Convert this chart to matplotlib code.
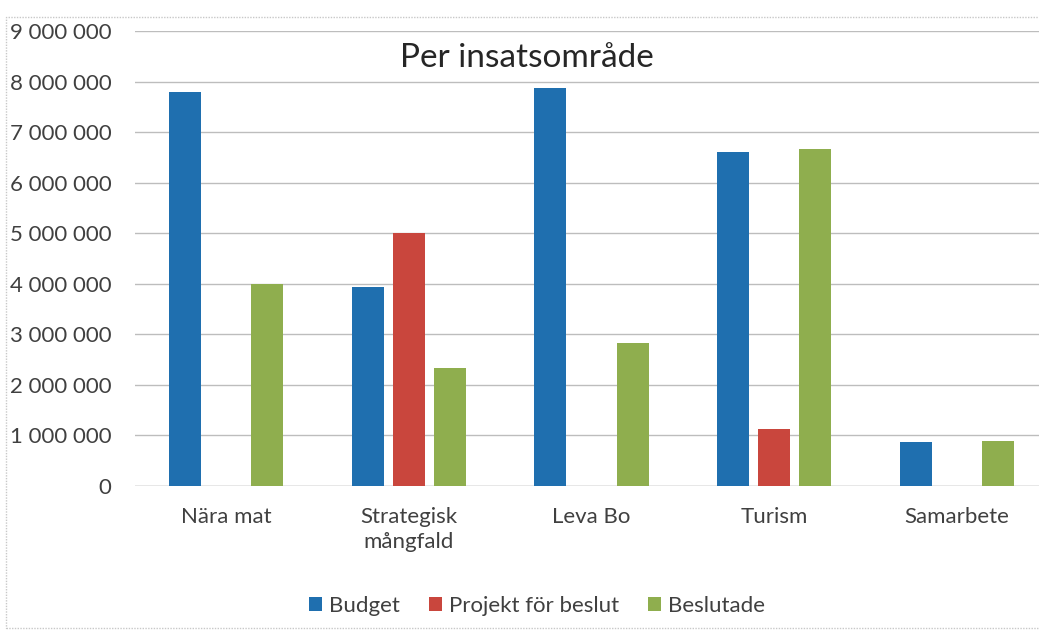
import matplotlib
matplotlib.use("Agg")
import matplotlib.pyplot as plt
import numpy as np
from matplotlib.patches import Rectangle

categories = ["Nära mat", "Strategisk\nmångfald", "Leva Bo", "Turism", "Samarbete"]
budget = [7800000, 3930000, 7870000, 6600000, 870000]
projekt = [0, 5000000, 0, 1120000, 0]
beslutade = [4000000, 2330000, 2830000, 6660000, 890000]
series_names = ["Budget", "Projekt för beslut", "Beslutade"]
colors = ["#1f6faf", "#c9463d", "#8fae4e"]
yticks = [0, 1000000, 2000000, 3000000, 4000000, 5000000, 6000000, 7000000, 8000000, 9000000]

plt.rcParams['font.family'] = ['Lato', 'DejaVu Sans']

W, H = 1039, 641
fig = plt.figure(figsize=(W/100, H/100), dpi=100)
fig.patch.set_facecolor("white")
ax = fig.add_axes([135/W, (H-486)/H, (1048-135)/W, (486-31)/H])

x = np.arange(len(categories))
bw = 0.176
step = 0.225
for i, (vals, name, c) in enumerate(zip([budget, projekt, beslutade], series_names, colors)):
    ax.bar(x + (i-1)*step, vals, width=bw, color=c, label=name, zorder=3)

ax.set_xlim(-0.5, len(categories)-0.5)
ax.set_ylim(0, 9000000)
ax.set_yticks(yticks)
ax.set_yticklabels([f"{v:,}".replace(",", " ") for v in yticks], fontsize=16, color="#404040")
ax.set_xticks(x)
ax.set_xticklabels(categories, fontsize=16, color="#404040", linespacing=1.3)
ax.tick_params(axis='y', length=0, pad=17)
ax.tick_params(axis='x', length=0, pad=15)
ax.grid(axis='y', color="#bdbdbd", linewidth=1.0, zorder=0)
for s in ax.spines.values():
    s.set_visible(False)
ax.axhline(0, color="#bdbdbd", linewidth=1.0, zorder=1)

fig.text(527/W, 1-58/H, "Per insatsområde", ha='center', va='center', fontsize=24, color="#262626")

handles, labels = ax.get_legend_handles_labels()
fig.legend(handles, labels, loc='center', bbox_to_anchor=(537/W, 1-606/H), ncol=3, frameon=False,
           fontsize=16, handlelength=0.6, handleheight=0.6, handletextpad=0.3, columnspacing=1.3,
           labelcolor="#404040")

fig.patches.append(Rectangle((6/W, 1-628/H), 1.1, (628-17)/H, transform=fig.transFigure,
                             fill=False, edgecolor="#c8c8c8", linewidth=1.0, linestyle=(0, (1, 1))))

fig.savefig("out.png", dpi=100, facecolor="white")
